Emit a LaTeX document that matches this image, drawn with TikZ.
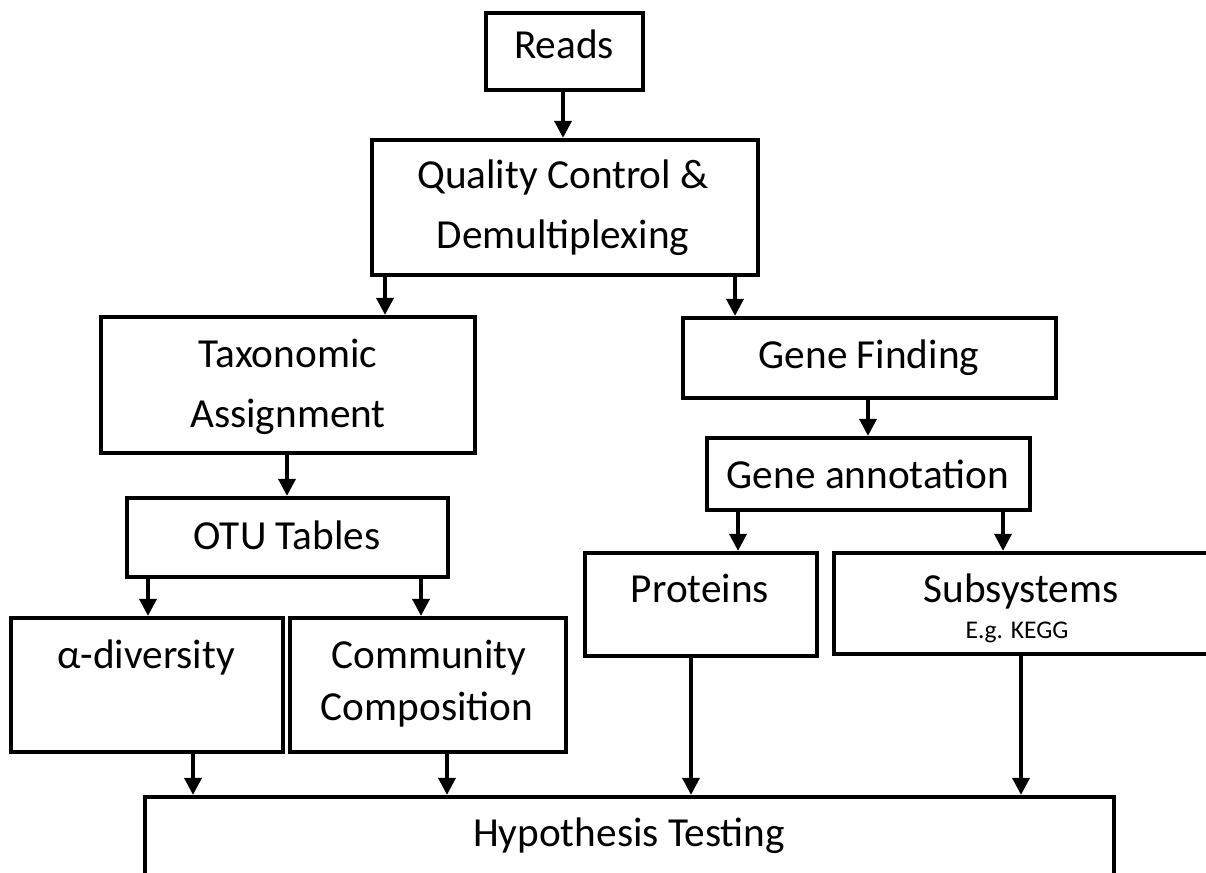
\documentclass[tikz,border=0pt]{standalone}
\usepackage{fontspec}
\setmainfont{Carlito}
\usetikzlibrary{arrows.meta,fit}
\tikzset{
	box/.style={draw, line width=0.085cm, inner sep=0pt},
	arr/.style={line width=0.07cm, -{Triangle[width=0.34cm,length=0.34cm]}},
	txt/.style={anchor=base, inner sep=0pt, font=\fontsize{23.5}{28}\selectfont},
	smalltxt/.style={anchor=base, inner sep=0pt, font=\fontsize{14.5}{17}\selectfont}
}

\begin{document}
\begin{tikzpicture}[x=0.02cm, y=-0.02cm]
		%%%%% START %%%%%
		\useasboundingbox (0,0) rectangle (1206,872);
		\clip (0,0) rectangle (1206,872);
		
		% boxes
		\node[box, fit={(486,13) (643,90)}] (reads) {};
		\node[box, fit={(372,140) (758,275)}] (qc) {};
		\node[box, fit={(101,317) (475,453)}] (tax) {};
		\node[box, fit={(683,318) (1056,398)}] (genefind) {};
		\node[box, fit={(707,438) (1030,510)}] (geneann) {};
		\node[box, fit={(127,498) (448,577)}] (otu) {};
		\node[box, fit={(585,553) (817,656)}] (prot) {};
		\node[box, fit={(834,553) (1220,654)}] (subsys) {};
		\node[box, fit={(11,618) (283,752)}] (alpha) {};
		\node[box, fit={(290,618) (566,752)}] (comm) {};
		\node[box, fit={(145,797) (1114,900)}] (hyp) {};
		
		% labels
		\node[txt] (readslbl) at (564,58) {Reads};
		\node[txt] (qclbla) at (563,188) {Quality Control \&};
		\node[txt] (qclblb) at (563,248) {Demultiplexing};
		\node[txt] (taxlbla) at (288,367) {Taxonomic};
		\node[txt] (taxlblb) at (288,427) {Assignment};
		\node[txt] (genefindlbl) at (869,368) {Gene Finding};
		\node[txt] (geneannlbl) at (868,488) {Gene annotation};
		\node[txt] (otulbl) at (287,549) {OTU Tables};
		\node[txt] (protlbl) at (700,602) {Proteins};
		\node[txt] (subsyslbl) at (1021,602) {Subsystems};
		\node[smalltxt] (kegglbl) at (1017,638) {E.g. KEGG};
		\node[txt] (alphalbl) at (146,668) {α-diversity};
		\node[txt] (commlbla) at (429,668) {Community};
		\node[txt] (commlblb) at (427,720) {Composition};
		\node[txt] (hyplbl) at (629,846) {Hypothesis Testing};
		
		% arrows
		\draw[arr] (563,0 |- reads.south) -- (563,0 |- qc.north);
		\draw[arr] (385,0 |- qc.south) -- (385,0 |- tax.north);
		\draw[arr] (735,0 |- qc.south) -- (735,0 |- genefind.north);
		\draw[arr] (287,0 |- tax.south) -- (287,0 |- otu.north);
		\draw[arr] (868,0 |- genefind.south) -- (868,0 |- geneann.north);
		\draw[arr] (148,0 |- otu.south) -- (148,0 |- alpha.north);
		\draw[arr] (421,0 |- otu.south) -- (421,0 |- comm.north);
		\draw[arr] (738,0 |- geneann.south) -- (738,0 |- prot.north);
		\draw[arr] (1003,0 |- geneann.south) -- (1003,0 |- subsys.north);
		\draw[arr] (193,0 |- alpha.south) -- (193,0 |- hyp.north);
		\draw[arr] (447,0 |- comm.south) -- (447,0 |- hyp.north);
		\draw[arr] (691,0 |- prot.south) -- (691,0 |- hyp.north);
		\draw[arr] (1021,0 |- subsys.south) -- (1021,0 |- hyp.north);
		
		%%%%% END %%%%%
\end{tikzpicture}
\end{document}
